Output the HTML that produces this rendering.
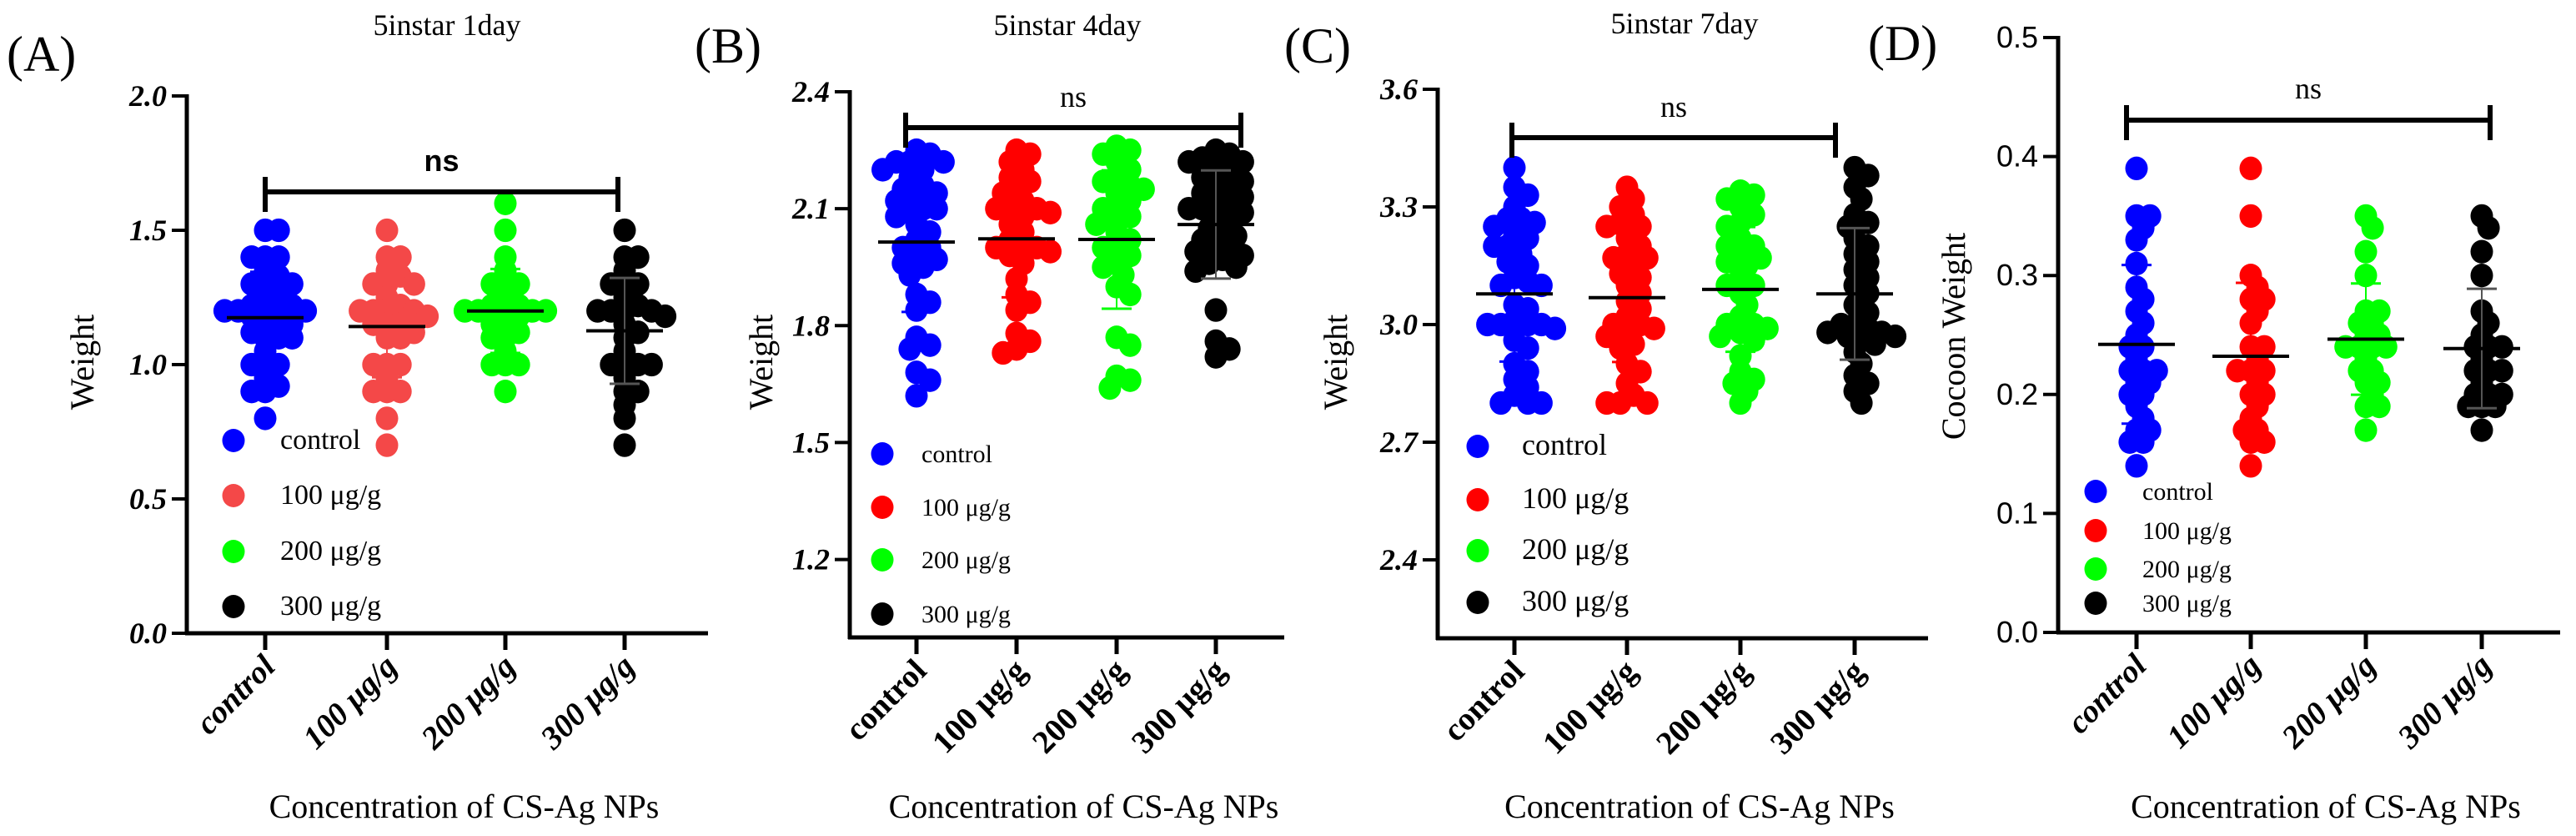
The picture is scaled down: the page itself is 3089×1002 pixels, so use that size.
<!DOCTYPE html>
<html><head><meta charset="utf-8"><style>
html,body{margin:0;padding:0;background:#fff;}
svg{display:block;}
</style></head><body>
<svg id="fig" width="3089" height="1002" viewBox="0 0 3089 1002" xmlns="http://www.w3.org/2000/svg"></svg>
<script>
// ---- data ----
const categories = ["control","100 μg/g","200 μg/g","300 μg/g"];
const catLabelsSpaced = ["control","100  μg/g","200  μg/g","300  μg/g"];
const ticksA = [0.0,0.5,1.0,1.5,2.0];
const ticksB = [1.2,1.5,1.8,2.1,2.4];
const ticksC = [2.4,2.7,3.0,3.3,3.6];
const ticksD = [0.0,0.1,0.2,0.3,0.4,0.5];
const A_control=[1.5,1.5,1.4,1.4,1.4,1.35,1.33,1.3,1.3,1.3,1.25,1.25,1.22,1.22,1.2,1.2,1.2,1.2,1.2,1.18,1.15,1.15,1.15,1.12,1.1,1.1,1.1,1.05,1.0,1.0,1.0,0.95,0.92,0.9,0.9,0.8];
const A_100=[1.5,1.4,1.4,1.35,1.33,1.3,1.3,1.3,1.25,1.22,1.2,1.2,1.2,1.2,1.18,1.15,1.15,1.15,1.12,1.1,1.1,1.0,1.0,1.0,0.95,0.9,0.9,0.9,0.8,0.7];
const A_200=[1.6,1.5,1.4,1.35,1.3,1.3,1.3,1.25,1.22,1.22,1.2,1.2,1.2,1.2,1.2,1.18,1.15,1.15,1.12,1.1,1.1,1.05,1.0,1.0,1.0,0.9];
const A_300=[1.5,1.4,1.4,1.35,1.3,1.3,1.3,1.25,1.22,1.2,1.2,1.2,1.2,1.18,1.15,1.12,1.1,1.05,1.0,1.0,1.0,1.0,0.95,0.9,0.9,0.85,0.8,0.7];
const B_control=[2.25,2.24,2.22,2.22,2.22,2.2,2.2,2.18,2.16,2.15,2.14,2.13,2.12,2.1,2.1,2.1,2.08,2.06,2.04,2.02,2.0,2.0,1.98,1.97,1.96,1.95,1.93,1.88,1.86,1.84,1.77,1.75,1.74,1.68,1.66,1.62];
const B_100=[2.25,2.24,2.22,2.2,2.18,2.17,2.15,2.14,2.12,2.1,2.1,2.1,2.09,2.08,2.06,2.04,2.02,2.0,2.0,2.0,1.99,1.98,1.96,1.92,1.88,1.86,1.84,1.78,1.76,1.74,1.73];
const B_200=[2.26,2.25,2.24,2.22,2.2,2.18,2.17,2.16,2.15,2.14,2.12,2.1,2.1,2.08,2.07,2.06,2.04,2.02,2.0,2.0,1.98,1.96,1.95,1.93,1.9,1.88,1.77,1.75,1.67,1.66,1.64];
const B_300=[2.25,2.24,2.23,2.22,2.22,2.2,2.19,2.18,2.17,2.16,2.15,2.14,2.13,2.12,2.11,2.1,2.1,2.09,2.08,2.07,2.05,2.04,2.03,2.02,2.0,2.0,1.99,1.98,1.97,1.96,1.95,1.94,1.84,1.76,1.74,1.72];
const C_control=[3.4,3.35,3.33,3.3,3.27,3.27,3.26,3.25,3.23,3.22,3.2,3.2,3.18,3.16,3.15,3.12,3.11,3.1,3.1,3.05,3.04,3.01,3.0,3.0,3.0,3.0,2.99,2.96,2.94,2.9,2.88,2.86,2.84,2.82,2.8,2.8,2.8];
const C_100=[3.35,3.32,3.3,3.28,3.26,3.25,3.25,3.22,3.2,3.18,3.17,3.17,3.15,3.13,3.12,3.1,3.08,3.06,3.04,3.02,3.0,3.0,2.99,2.98,2.97,2.95,2.94,2.9,2.88,2.85,2.82,2.8,2.8,2.8];
const C_200=[3.34,3.33,3.32,3.3,3.28,3.26,3.25,3.22,3.2,3.2,3.18,3.17,3.16,3.15,3.12,3.1,3.1,3.08,3.05,3.02,3.0,3.0,2.99,2.98,2.97,2.96,2.92,2.88,2.86,2.85,2.83,2.8];
const C_300=[3.4,3.38,3.35,3.32,3.28,3.26,3.25,3.22,3.2,3.18,3.16,3.14,3.12,3.1,3.08,3.05,3.03,3.0,3.0,2.99,2.98,2.98,2.97,2.97,2.96,2.95,2.93,2.9,2.87,2.85,2.83,2.8];
const D_control=[.39,.35,.35,.34,.33,.31,.29,.28,.27,.26,.25,.24,.24,.23,.22,.22,.22,.21,.21,.2,.2,.19,.18,.17,.17,.16,.16,.14];
const D_100=[.39,.35,.3,.29,.28,.28,.27,.26,.24,.24,.23,.22,.22,.22,.21,.2,.2,.19,.18,.17,.17,.16,.16,.14];
const D_200=[.35,.34,.32,.3,.27,.27,.26,.26,.25,.25,.24,.24,.24,.24,.23,.22,.22,.21,.21,.2,.19,.19,.17];
const D_300=[.35,.34,.32,.3,.27,.26,.25,.24,.24,.24,.23,.22,.22,.22,.21,.2,.2,.2,.19,.19,.19,.17];

const NS="http://www.w3.org/2000/svg";
const svg=document.getElementById('fig');
function el(tag,attrs,parent,text){const e=document.createElementNS(NS,tag);for(const k in attrs)e.setAttribute(k,attrs[k]);if(text!==undefined)e.textContent=text;(parent||svg).appendChild(e);return e;}

const serif='"Liberation Serif", serif', sans='"Liberation Sans", sans-serif';
const panels=[
 {id:'a',letter:'(A)',lx:8,ly:85,title:'5instar 1day',tx:536,ty:42,ax:224,top:115,bot:759,xEnd:849,min:0,max:2.0,ticks:ticksA,dec:1,tickFont:serif,tickStyle:'italic',tickWeight:'bold',
  cx:[318,464,606,749],groups:[A_control,A_100,A_200,A_300],colors:['#0000ff','#f44848','#00ff00','#000000'],labels:categories,
  nsY:230,nsX1:318,nsX2:741,nsTextY:205,nsFont:sans,ylab:'Weight',ylx:112,yly:434,
  legX:280,legY:[528,594,661,727],legTX:336,legLabels:["control","100 μg/g","200 μg/g","300 μg/g"],legFS:34,xtY:980},
 {id:'b',letter:'(B)',lx:833,ly:75,title:'5instar 4day',tx:1280,ty:42,ax:1019,top:110,bot:764,xEnd:1540,min:1.0,max:2.4,ticks:ticksB,dec:1,tickFont:serif,tickStyle:'italic',tickWeight:'bold',
  cx:[1099,1219,1339,1458],groups:[B_control,B_100,B_200,B_300],colors:['#0000ff','#ff0000','#00ff00','#000000'],labels:catLabelsSpaced,
  nsY:153,nsX1:1086,nsX2:1488,nsTextY:128,nsFont:serif,ylab:'Weight',ylx:926,yly:434,
  legX:1058,legY:[544,608,671,736],legTX:1105,legLabels:["control","100  μg/g","200  μg/g","300  μg/g"],legFS:30,xtY:980},
 {id:'c',letter:'(C)',lx:1540,ly:75,title:'5instar 7day',tx:2020,ty:40,ax:1724,top:107,bot:765,xEnd:2312,min:2.2,max:3.6,ticks:ticksC,dec:1,tickFont:serif,tickStyle:'italic',tickWeight:'bold',
  cx:[1816,1951,2087,2224],groups:[C_control,C_100,C_200,C_300],colors:['#0000ff','#ff0000','#00ff00','#000000'],labels:catLabelsSpaced,
  nsY:165,nsX1:1813,nsX2:2201,nsTextY:140,nsFont:serif,ylab:'Weight',ylx:1615,yly:434,
  legX:1772,legY:[535,599,660,722],legTX:1825,legLabels:["control","100  μg/g","200  μg/g","300  μg/g"],legFS:36,xtY:980},
 {id:'d',letter:'(D)',lx:2240,ly:72,title:'',tx:0,ty:0,ax:2468,top:45,bot:758,xEnd:3070,min:0,max:0.5,ticks:ticksD,dec:1,tickFont:sans,tickStyle:'normal',tickWeight:'normal',
  cx:[2562,2699,2837,2976],groups:[D_control,D_100,D_200,D_300],colors:['#0000ff','#ff0000','#00ff00','#000000'],labels:categories,
  nsY:144,nsX1:2550,nsX2:2986,nsTextY:118,nsFont:serif,ylab:'Cocoon Weight',ylx:2356,yly:403,
  legX:2513,legY:[589,636,682,723],legTX:2569,legLabels:["control","100 μg/g","200 μg/g","300 μg/g"],legFS:30,xtY:980}
];

function swarm(vals,cx,yf,r){
  const pts=[];const sorted=[...vals].sort((a,b)=>b-a);const d=2*r*0.55;const step=r*0.6;
  for(const v of sorted){const y=yf(v);let placed=false;let best=null,bestD=-1;
    for(let k=0;k<=6&&!placed;k++){for(const s of (k===0?[0]:[k,-k])){const x=cx+s*step;
        const md=pts.length?Math.min(...pts.map(p=>Math.hypot(p.x-x,p.y-y))):1e9;
        if(md>=d){pts.push({x,y,v});placed=true;break;}
        if(md>bestD){bestD=md;best=x;}}}
    if(!placed)pts.push({x:best,y,v});}
  return pts;
}

panels.forEach(P=>{
  const g=el('g',{});
  
  
  const yf=v=>P.bot-(v-P.min)/(P.max-P.min)*(P.bot-P.top);
  const lt=el('text',{x:P.lx,y:P.ly,'font-family':serif,'font-size':60},g,P.letter);
  
  
  if(P.title){const t=el('text',{x:P.tx,y:P.ty,'font-family':serif,'font-size':36,'text-anchor':'middle'},g,P.title);
    
    }
  const ya=el('line',{x1:P.ax,y1:P.top-2,x2:P.ax,y2:P.bot+2,stroke:'#000','stroke-width':5},g);
  
  
  const xa=el('line',{x1:P.ax-2,y1:P.bot,x2:P.xEnd,y2:P.bot,stroke:'#000','stroke-width':5},g);
  
  
  P.ticks.forEach(t=>{const y=yf(t);
    el('line',{x1:P.ax-18,y1:y,x2:P.ax,y2:y,stroke:'#000','stroke-width':4},g);
    const tl=el('text',{x:P.ax-24,y:y+12,'font-family':P.tickFont,'font-style':P.tickStyle,'font-weight':P.tickWeight,'font-size':36,'text-anchor':'end'},g,t.toFixed(P.dec));
    
    });
  const yl=el('text',{x:P.ylx,y:P.yly,'font-family':serif,'font-size':40,'text-anchor':'middle',transform:`rotate(-90 ${P.ylx} ${P.yly})`},g,P.ylab);
  
  
  P.cx.forEach((x,i)=>{
    el('line',{x1:x,y1:P.bot,x2:x,y2:P.bot+20,stroke:'#000','stroke-width':5},g);
    const tx=x+14,ty=P.bot+42;
    const cl=el('text',{x:tx,y:ty,'font-family':serif,'font-weight':'bold','font-style':P.id==='a'||P.id==='d'?'italic':'normal','font-size':39,'text-anchor':'end',transform:`rotate(-45 ${tx} ${ty})`},g,P.labels[i]);
    
    
  });
  const xt=el('text',{x:(P.ax+P.xEnd)/2+20,y:P.xtY,'font-family':serif,'font-size':40,'text-anchor':'middle'},g,'Concentration of CS-Ag NPs');
  
  
  const r=13.5;
  P.groups.forEach((vals,i)=>{
    const pts=swarm(vals,P.cx[i],yf,r);
    pts.forEach(p=>{const c=el('ellipse',{cx:p.x,cy:p.y,rx:r,ry:r*1.05,fill:P.colors[i]},g);
      
      });
    const m=vals.reduce((a,b)=>a+b,0)/vals.length;
    const sd=Math.sqrt(vals.reduce((a,b)=>a+(b-m)**2,0)/(vals.length-1));
    const ec=i===3?'#555':P.colors[i];
    el('line',{x1:P.cx[i],y1:yf(m+sd),x2:P.cx[i],y2:yf(m-sd),stroke:ec,'stroke-width':2},g);
    [m+sd,m-sd].forEach(v=>el('line',{x1:P.cx[i]-18,y1:yf(v),x2:P.cx[i]+18,y2:yf(v),stroke:ec,'stroke-width':3},g));
    const ml=el('line',{x1:P.cx[i]-46,y1:yf(m),x2:P.cx[i]+46,y2:yf(m),stroke:'#000','stroke-width':4},g);
    
    
  });
  const sb=el('path',{d:`M${P.nsX1},${P.nsY-18}V${P.nsY+24}M${P.nsX1},${P.nsY}H${P.nsX2}M${P.nsX2},${P.nsY-18}V${P.nsY+24}`,stroke:'#000','stroke-width':6,fill:'none'},g);
  
  
  const ns=el('text',{x:(P.nsX1+P.nsX2)/2,y:P.nsTextY,'font-family':P.nsFont,'font-size':36,'font-weight':P.nsFont===sans?'bold':'normal','text-anchor':'middle'},g,'ns');
  
  
  P.legLabels.forEach((lab,i)=>{
    const lg=el('g',{},g);
    
    
    el('ellipse',{cx:P.legX,cy:P.legY[i],rx:13.5,ry:14,fill:P.colors[i]},lg);
    el('text',{x:P.legTX,y:P.legY[i]+10,'font-family':serif,'font-size':P.legFS},lg,lab);
  });
});
</script>
</body></html>
